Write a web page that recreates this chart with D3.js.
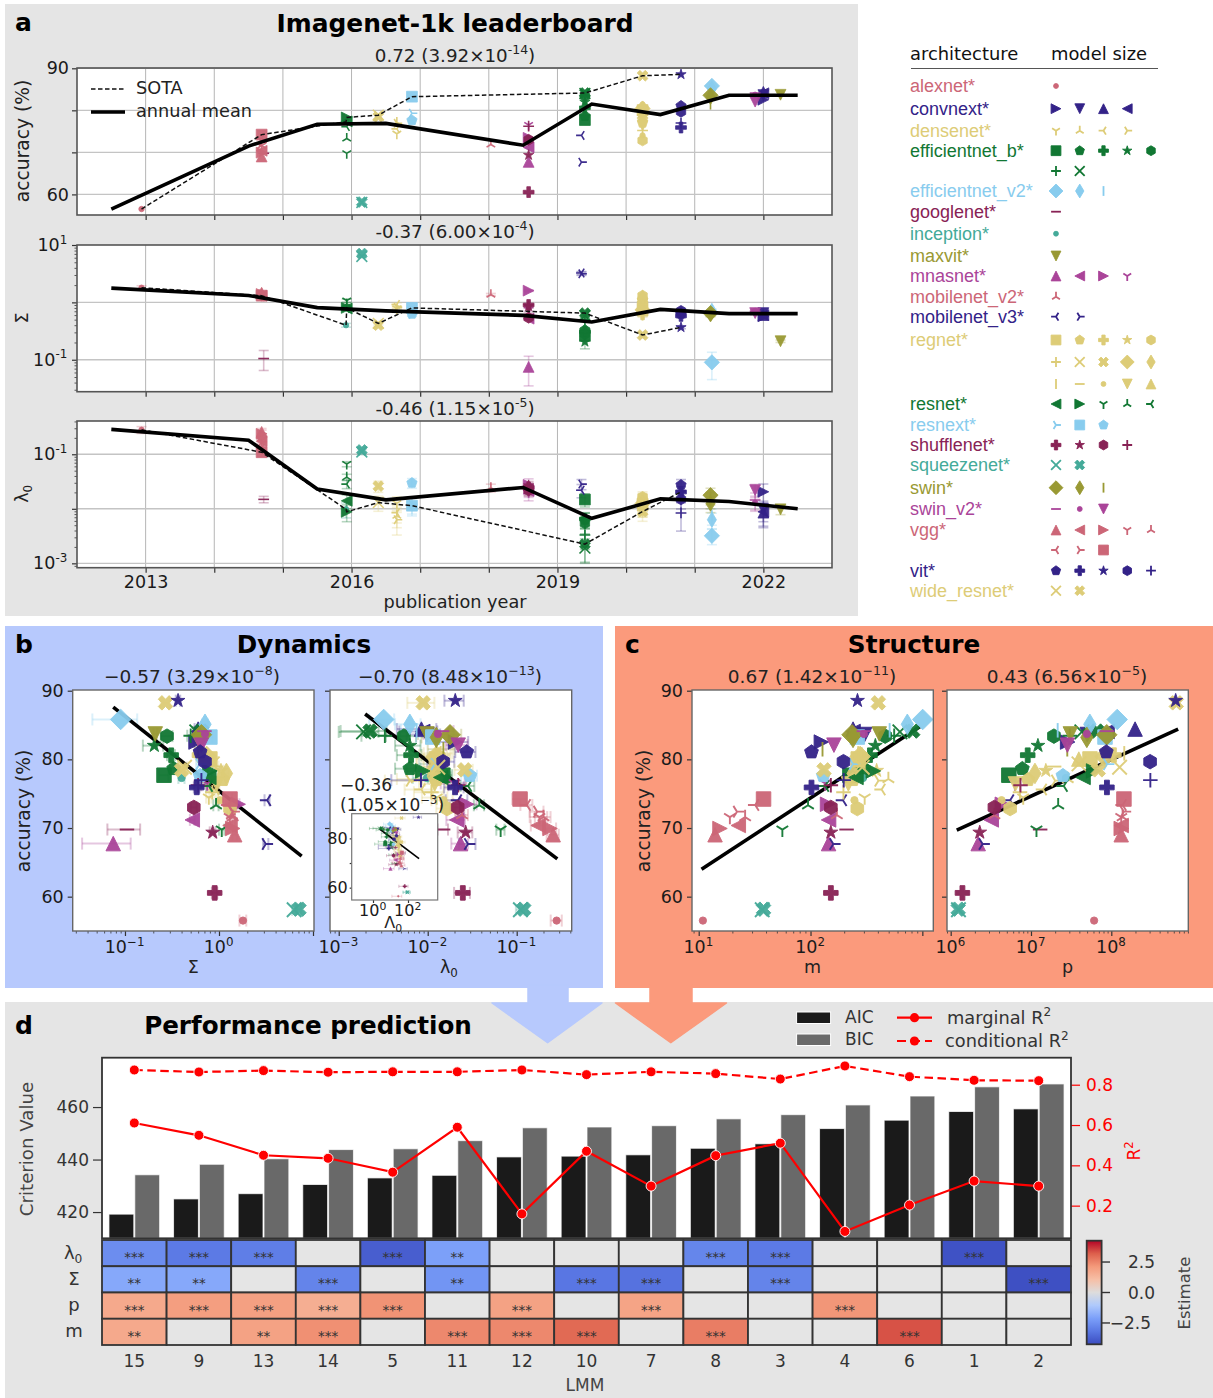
<!DOCTYPE html>
<html><head><meta charset="utf-8">
<script src="https://cdn.jsdelivr.net/npm/d3@7/dist/d3.min.js"></script>
<style>html,body{margin:0;padding:0;background:#fff}svg{display:block}text{font-family:'DejaVu Sans',sans-serif}</style>
</head><body><svg id="fig" width="1213" height="1398"></svg>
<script>
// ---------- data ----------
const archNames=['alexnet*','convnext*','densenet*','efficientnet_b*','efficientnet_v2*','googlenet*','inception*','maxvit*','mnasnet*','mobilenet_v2*','mobilenet_v3*','regnet*','resnet*','resnext*','shufflenet*','squeezenet*','swin*','swin_v2*','vgg*','vit*','wide_resnet*'];
const archColors=['#cc6677','#332288','#ddcc77','#117733','#88ccee','#882255','#44aa99','#999933','#aa4499','#cc6677','#332288','#ddcc77','#117733','#88ccee','#882255','#44aa99','#999933','#aa4499','#cc6677','#332288','#ddcc77'];
const archYears=[2012.94,2022.0,2016.66,2019.4,2021.25,2014.72,2015.92,2022.25,2018.58,2018.03,2019.35,2020.24,2015.93,2016.88,2018.58,2016.15,2021.23,2021.88,2014.69,2020.8,2016.39];
const archMarkers=[['.'],['>','v','^','<'],['1','2','3','4'],['s','p','P','*','h','+','x','X'],['D','d','|'],['_'],['.'],['v'],['^','<','>','1'],['2'],['3','4'],['s','p','P','*','h','+','x','X','D','d','|','_','.','v','^'],['<','>','1','2','3'],['4','s','p'],['P','*','h','+'],['x','X'],['D','d','|'],['_','.','v'],['^','<','>','1','2','3','4','s'],['p','P','*','h','+'],['x','X']];
const accuracy=[56.52, 82.52,83.62,84.41,84.06, 74.43,77.14,75.6,76.9, 77.69,78.64,80.61,82.0,83.38,83.44,84.0,84.12, 85.81,85.11,84.23, 69.78, 77.29, 83.7, 67.73,71.18,73.46,76.5, 71.88, 74.04,67.67, 80.06,77.04,80.62,78.36,72.83,75.21,79.34,88.23,80.42,77.95,80.88,78.95,74.05,76.42,80.04, 77.37,78.31,69.76,73.31,76.13, 79.31,83.25,77.62, 60.55,69.36,73.0,76.23, 58.09,58.18, 83.58,83.2,81.47, 84.11,83.71,82.07, 69.02,70.37,69.93,71.59,71.59,73.36,72.38,74.22, 81.07,75.91,88.55,79.66,76.97, 78.85,78.47];
const paramsM=[61.1, 28.6,50.2,197.8,88.6, 8.0,28.7,14.1,20.0, 5.3,7.8,9.1,12.2,19.3,30.4,43.0,66.3, 118.5,54.1,21.5, 13.0, 27.2, 30.9, 2.2,3.2,4.4,6.3, 3.5, 5.5,2.5, 54.3,9.2,107.8,15.3,5.5,7.3,39.6,644.8,83.6,11.2,145.0,19.4,4.3,6.4,39.4, 44.5,60.2,11.7,21.8,25.6, 88.8,83.5,25.0, 1.4,2.3,3.5,7.4, 1.25,1.24, 87.8,49.6,28.3, 87.9,49.7,28.4, 132.9,132.9,133.0,133.0,138.4,138.4,143.7,143.7, 86.6,88.2,633.5,304.3,306.5, 126.9,68.9];
const modulesM=[10.9, 125,305,240,240, 305,497,432,405, 225,300,340,380,465,560,630,820, 1007,734,510, 210, 295, 412, 145,145,142,135, 172, 195,160, 267,240,278,390,262,197,285,404,278,240,267,295,247,218,267, 255,365,56,95,135, 240,262,130, 152,152,152,152, 37,38, 235,240,128, 300,300,162, 14,22.6,15.5,19,26,32,22,38, 102,102,263,197,198, 290,132];
const sigma=[1.8, .57,.65,.6,.6, .78,.74,.92,.82, .26,.33,.31,.205,.28,.5,.58,.65, .09,.71,.66, .105, .4, .21, .075,.52,1.6,.75, 1.37, 3.25,3.15, .8,1.1,.62,1.05,1.31,.85,.85,.27,.74,1.2,.6,.93,1.02,.95,.8, .78,.8,1.07,.93,.78, .62,.8,.63, .9,.857,.54,.6, 6.3,7.1, .65,.62,.6, .7,.71,.65, 1.47,1.31,1.4,1.3,1.4,1.25,1.4,1.31, .63,.58,.367,.71,.65, .43,.4];
const sigmaErr=[.15, .03,.04,.05,.04, .05,.05,.06,.05, .03,.03,.03,.05,.04,.04,.05,.05, .045,.05,.05, .04, .03, .01, .04,.03,.05,.05, .06, .2,.2, .06,.07,.05,.06,.07,.06,.06,.03,.05,.07,.05,.06,.06,.06,.05, .05,.05,.07,.06,.05, .05,.05,.05, .06,.06,.04,.05, .3,.35, .04,.04,.04, .04,.04,.04, .08,.07,.08,.08,.08,.07,.08,.07, .04,.04,.02,.05,.05, .03,.03];
const lambda0=[.281, .0205,.0098,.0085,.0088, .0126,.0075,.0085,.0063, .0148,.0063,.0065,.0063,.0054,.0033,.0019,.00225, .0032,.0063,.0075, .0149, .0098, .0098, .0234,.0212,.0274,.02, .0243, .0219,.0284, .0125,.0125,.013,.011,.0165,.011,.0115,.0089,.0125,.012,.014,.012,.015,.012,.013, .014,.0088,.066,.038,.0284, .012,.0114,.0298, .0248,.0267,.0217,.022, .11,.12, .0178,.0125,.015, .0145,.013,.022, .257,.174,.237,.18,.2,.13,.17,.109, .0274,.0203,.0204,.0149,.0084, .013,.026];
const lambdaErr=[.04, .008,.004,.004,.004, .004,.003,.003,.003, .004,.002,.002,.002,.002,.0015,.0009,.0012, .001,.002,.0025, .002, .003, .002, .005,.005,.008,.006, .004, .006,.006, .005,.004,.005,.004,.004,.004,.004,.003,.004,.004,.005,.004,.004,.004,.004, .004,.003,.007,.005,.005, .004,.004,.006, .005,.005,.004,.005, .012,.012, .006,.004,.005, .005,.004,.006, .04,.03,.04,.04,.04,.02,.03,.02, .007,.005,.005,.005,.0045, .004,.006];
const capLambda=[28, 15,25,10,12, 30,22,28,25, 5,5,6,6,7,4,2.5,3, 9,12,12, 25, 10, 18, 10,20,30,12, 35, 45,60, 25,30,30,28,35,30,25,43,20,28,22,28,32,30,25, 9,12,20,15,12, 18,12,15, 65,22,15,20, 95,90, 18,14,14, 18,14,22, 42,30,38,35,40,40,38,45, 22,8,398,16,8, 28,43];
const capLambdaErr=[16, 8,14,6,6, 14,10,12,10, 4,3,3,3,3,2.5,2,2, 5,7,7, 12, 5, 16, 6,11,18,7, 18, 25,30, 12,14,14,12,16,14,12,25,10,14,11,14,14,12,12, 5,6,9,7,6, 10,7,8, 35,14,9,11, 40,40, 9,7,7, 9,7,11, 25,18,22,20,22,22,20,25, 12,6,200,8,6, 14,25];
const annualYears=[2012.5,2014.5,2015.5,2016.5,2018.5,2019.5,2020.5,2021.5,2022.5];
const annualAccuracy=[56.5,71.5,76.7,76.9,71.7,81.5,79.0,83.6,83.6];
const annualSigma=[1.77,1.32,.81,.71,.594,.455,.755,.636,.636];
const annualLambda=[.286,.181,.023,.0146,.0246,.0067,.0152,.0136,.01];
const sotaModels=[['alexnet*',0],['vgg*',7],['inception*',0],['resnet*',1],['wide_resnet*',0],['resnext*',1],['efficientnet_b*',7],['regnet*',7],['vit*',2]];
const fitSigma=[[.075,87.6],[7.57,65.9]];
const fitLambda=[[.00198,86.6],[.286,65.5]];
const fitCap=[[2.4,83.8],[430,71.8]];
const fitM=[[10.6,64],[955,84.8]];
const fitP=[[1.19,69.7],[680,84.4]];
const lmmNames=['15','9','13','14','5','11','12','10','7','8','3','4','6','1','2'];
const aic=[419.2,425,427,430.5,433,434,441,441.3,441.8,444.3,446,451.8,455,458.3,459.3];
const bic=[434.2,438.2,440.3,443.8,444.1,447.2,452.1,452.4,452.9,455.5,457.1,460.8,464.2,467.7,468.8];
const marginalR2=[.61,.549,.45,.435,.366,.589,.159,.47,.297,.448,.51,.072,.203,.322,.297];
const conditionalR2=[.873,.863,.87,.862,.864,.864,.873,.85,.864,.855,.828,.893,.84,.822,.82];
const heatRows=['λ_{0}','Σ','p','m'];
const estLambda=[-2.6,-3.1,-3.0,null,-3.8,-2.1,null,null,null,-2.8,-3.1,null,null,-4.1,null];
const estSigma=[-1.9,-1.9,null,-2.85,null,-2.4,null,-3.2,-3.3,null,-2.85,null,null,null,-4.15];
const estP=[1.7,2.0,1.95,1.55,2.25,null,1.9,null,1.85,null,null,2.2,null,null,null];
const estM=[1.7,null,1.9,2.3,null,2.45,2.45,3.0,null,2.65,null,null,3.35,null,null];
const starLambda=['***','***','***','','***','**','','','','***','***','','','***',''];
const starSigma=['**','**','','***','','**','','***','***','','***','','','','***'];
const starP=['***','***','***','***','***','','***','','***','','','***','','',''];
const starM=['**','','**','***','','***','***','***','','***','','','***','',''];
const coolwarmStops=['#3b4cc0','#5977e3','#7b9ff9','#aec9fc','#dddcdc','#f6bfa6','#f49a7b','#dd604c','#b40426'];

// ---------- model table ----------
const models=[];
archNames.forEach((a,ai)=>archMarkers[ai].forEach((mk,mi)=>{
  const i=models.length;
  models.push({arch:a,color:archColors[ai],marker:mk,sub:mi,year:archYears[ai],acc:accuracy[i],p:paramsM[i],m:modulesM[i],sigma:sigma[i],sigmaE:sigmaErr[i],lam:lambda0[i],lamE:lambdaErr[i],cap:capLambda[i],capE:capLambdaErr[i]});
}));
const svg=d3.select('#fig');

// ---------- marker shapes ----------
const lineMarkers=new Set(['+','x','|','_','1','2','3','4']);
function poly(ctx,pts){pts.forEach((p,i)=>i?ctx.lineTo(p[0],p[1]):ctx.moveTo(p[0],p[1]));ctx.closePath();}
function regular(n,r,inner){const a=[];const k=inner?n*2:n;for(let i=0;i<k;i++){const t=-Math.PI/2+i*2*Math.PI/k;const R=inner&&i%2?inner:r;a.push([R*Math.cos(t),R*Math.sin(t)]);}return a;}
function segs(ctx,list){list.forEach(l=>{ctx.moveTo(l[0],l[1]);ctx.lineTo(l[2],l[3]);});}
const markerDraw={
 's':(c,s)=>poly(c,[[-s/2,-s/2],[s/2,-s/2],[s/2,s/2],[-s/2,s/2]]),
 '^':(c,s)=>poly(c,[[0,-s/2],[s/2,s/2],[-s/2,s/2]]),
 'v':(c,s)=>poly(c,[[0,s/2],[s/2,-s/2],[-s/2,-s/2]]),
 '<':(c,s)=>poly(c,[[-s/2,0],[s/2,-s/2],[s/2,s/2]]),
 '>':(c,s)=>poly(c,[[s/2,0],[-s/2,-s/2],[-s/2,s/2]]),
 'D':(c,s)=>{const r=s*.707;poly(c,[[0,-r],[r,0],[0,r],[-r,0]]);},
 'd':(c,s)=>{const r=s*.707,w=r*.6;poly(c,[[0,-r],[w,0],[0,r],[-w,0]]);},
 'p':(c,s)=>poly(c,regular(5,s/2)),
 'h':(c,s)=>poly(c,regular(6,s/2)),
 '*':(c,s)=>poly(c,regular(5,s/2,s*.19)),
 'P':(c,s)=>{const a=s/2,b=s/6;poly(c,[[-b,-a],[b,-a],[b,-b],[a,-b],[a,b],[b,b],[b,a],[-b,a],[-b,b],[-a,b],[-a,-b],[-b,-b]]);},
 'X':(c,s)=>{const u=s/4;poly(c,[[-1,-2],[0,-1],[1,-2],[2,-1],[1,0],[2,1],[1,2],[0,1],[-1,2],[-2,1],[-1,0],[-2,-1]].map(p=>[p[0]*u,p[1]*u]));},
 '.':(c,s)=>{const r=s/4;c.moveTo(r,0);c.arc(0,0,r,0,2*Math.PI);},
 '+':(c,s)=>segs(c,[[-s/2,0,s/2,0],[0,-s/2,0,s/2]]),
 'x':(c,s)=>segs(c,[[-s/2,-s/2,s/2,s/2],[-s/2,s/2,s/2,-s/2]]),
 '|':(c,s)=>segs(c,[[0,-s/2,0,s/2]]),
 '_':(c,s)=>segs(c,[[-s/2,0,s/2,0]]),
 '1':(c,s)=>segs(c,[[0,0,0,s/2],[0,0,.4*s,-.25*s],[0,0,-.4*s,-.25*s]]),
 '2':(c,s)=>segs(c,[[0,0,0,-s/2],[0,0,.4*s,.25*s],[0,0,-.4*s,.25*s]]),
 '3':(c,s)=>segs(c,[[0,0,-s/2,0],[0,0,.25*s,-.4*s],[0,0,.25*s,.4*s]]),
 '4':(c,s)=>segs(c,[[0,0,s/2,0],[0,0,-.25*s,-.4*s],[0,0,-.25*s,.4*s]])
};
function markerPath(mk,ms){
  return d3.symbol().type({draw(ctx,size){markerDraw[mk](ctx,Math.sqrt(size));}}).size(ms*ms)();
}
function drawMarker(g,mk,ms,color,x,y,lw,opacity){
  const line=lineMarkers.has(mk);
  return g.append('path').attr('d',markerPath(mk,ms)).attr('transform',`translate(${x},${y})`)
    .attr('fill',line?'none':color).attr('stroke',color).attr('stroke-width',line?(lw||1.8):(lw?lw*.5:.8))
    .attr('opacity',opacity==null?.95:opacity);
}

// ---------- text with sub/superscripts ----------
function rich(sel,str,fs){
  sel.text(null);
  const re=/\^\{([^}]*)\}|_\{([^}]*)\}/g;
  let last=0,m,carry=0;
  const put=(t,dy,size)=>{const s=sel.append('tspan').text(t);if(dy)s.attr('dy',dy);if(size)s.attr('font-size',size);};
  while((m=re.exec(str))){
    if(m.index>last){put(str.slice(last,m.index),carry);carry=0;}
    const sup=m[1]!==undefined,shift=(sup?-.42:.22)*fs;
    put(sup?m[1]:m[2],shift+carry,fs*.68);carry=-shift;last=re.lastIndex;
  }
  if(last<str.length)put(str.slice(last),carry);
  else if(carry)sel.append('tspan').attr('dy',carry).text('\u200a');
}
function label(g,x,y,str,o={}){
  const fs=o.size||17.5;
  const t=g.append('text').attr('x',x).attr('y',y).attr('font-size',fs).attr('text-anchor',o.anchor||'middle')
    .attr('fill',o.color||'#1a1a1a').attr('font-weight',o.weight||null);
  if(o.family)t.style('font-family',o.family);
  if(o.rotate!=null)t.attr('transform',`rotate(${o.rotate} ${x} ${y})`);
  rich(t,str,fs);return t;
}

// ---------- axes ----------
function logMinors(scale){
  const d=scale.domain(),lo=Math.floor(Math.log10(d[0])),hi=Math.ceil(Math.log10(d[1])),out=[];
  for(let e=lo;e<=hi;e++)for(let k=2;k<=9;k++){const v=k*Math.pow(10,e);if(v>=d[0]&&v<=d[1])out.push(v);}
  return out;
}
function axis(g,gen,scale,pos,o){
  const a=gen(scale).tickValues(o.major).tickSize(o.len||5).tickPadding(o.pad||3).tickFormat(d=>'');
  const ag=g.append('g').attr('transform',pos).call(a);
  ag.select('.domain').remove();
  ag.selectAll('.tick line').attr('stroke',o.color||'#333').attr('stroke-width',o.width||1.2);
  const fs=o.size||17.5;
  ag.selectAll('.tick text').attr('fill',o.textColor||'#1a1a1a').attr('font-size',fs).each(function(d){
    const s=o.text?o.text(d):null; if(s!=null)rich(d3.select(this),s,fs);
  });
  if(o.minor){
    const mg=g.append('g').attr('transform',pos).call(gen(scale).tickValues(o.minor).tickSize(o.minorLen||2.5).tickFormat(d=>''));
    mg.select('.domain').remove();
    mg.selectAll('.tick line').attr('stroke',o.color||'#333').attr('stroke-width',.8);
  }
  return ag;
}
const sci=d=>'10^{'+String(Math.round(Math.log10(d))).replace('-','\u2212')+'}';
const sciHy=d=>'10^{'+Math.round(Math.log10(d))+'}';
function frame(g,x0,y0,x1,y1,color,w){
  return g.append('rect').attr('x',x0).attr('y',y0).attr('width',x1-x0).attr('height',y1-y0).attr('fill','none').attr('stroke',color||'#555').attr('stroke-width',w||1.6);
}
function plotBg(g,x0,y0,x1,y1){g.append('rect').attr('x',x0).attr('y',y0).attr('width',x1-x0).attr('height',y1-y0).attr('fill','#fff');}
function errorbars(g,x,y,f,o){
  models.forEach(d=>{
    const e=f(d);if(!e)return;
    const lo=Math.max(e.v-e.e,e.v*.25),hi=e.v+e.e,c=o.cap,ln=g.append('g').attr('stroke',d.color).attr('stroke-opacity',o.alpha||.3).attr('stroke-width',o.lw||1.6).attr('fill','none');
    if(e.axis==='x'){
      const py=y(d.acc);
      ln.append('line').attr('x1',x(lo)).attr('x2',x(hi)).attr('y1',py).attr('y2',py);
      [lo,hi].forEach(v=>ln.append('line').attr('x1',x(v)).attr('x2',x(v)).attr('y1',py-c).attr('y2',py+c));
    }else{
      const px=x(d.year);
      ln.append('line').attr('x1',px).attr('x2',px).attr('y1',y(lo)).attr('y2',y(hi));
      [lo,hi].forEach(v=>ln.append('line').attr('x1',px-c).attr('x2',px+c).attr('y1',y(v)).attr('y2',y(v)));
    }
  });
}
function dots(g,fx,fy,ms,lw){models.forEach(d=>drawMarker(g,d.marker,ms,d.color,fx(d),fy(d),lw));}
const fitLine=(x,y)=>d3.line().x(d=>x(d[0])).y(d=>y(d[1]));

// ---------- backgrounds ----------
const panelBg=[[5,4,853,612,'#e5e5e5'],[5,626,598,362,'#b7c9fd'],[615,626,598,362,'#fb9a7c'],[5,1002,1208,396,'#e5e5e5']];
panelBg.forEach(r=>svg.append('rect').attr('x',r[0]).attr('y',r[1]).attr('width',r[2]).attr('height',r[3]).attr('fill',r[4]));

// ---------- panel a ----------
const gA=svg.append('g');
label(gA,15,31,'a',{size:25,weight:'bold',anchor:'start',color:'#000'});
label(gA,455,32,'Imagenet-1k leaderboard',{size:24.9,weight:'bold',color:'#000'});
const xYear=d3.scaleLinear().domain([2012,2023]).range([77,832]);
const yearTicks=d3.range(2013,2023);
const A=[
 {y:d3.scaleLinear().domain([55.1,90]).range([215,68.3]),top:68,bot:215,key:d=>d.acc,title:'0.72 (3.92×10^{-14})',ty:62,grid:[60,70,80,90],major:[60,70,80,90],lab:d=>(d===60||d===90)?String(d):null,annual:annualAccuracy,name:'accuracy (%)',ny:141,nfs:18.7,err:null},
 {y:d3.scaleLog().domain([Math.pow(10,-1.557),10]).range([391.7,245]),top:245,bot:391.7,key:d=>d.sigma,title:'-0.37 (6.00×10^{-4})',ty:238,grid:[1,.1],major:[10,1,.1],lab:d=>d===1?null:sciHy(d),annual:annualSigma,name:'Σ',ny:318,nfs:17.5,err:d=>({v:d.sigma,e:d.sigmaE})},
 {y:d3.scaleLog().domain([Math.pow(10,-3.08),Math.pow(10,-.39)]).range([567.7,421]),top:421,bot:567.7,key:d=>d.lam,title:'-0.46 (1.15×10^{-5})',ty:415,grid:[.1,.01,.001],major:[.1,.01,.001],lab:d=>d===.01?null:sciHy(d),annual:annualLambda,name:'λ_{0}',ny:493,nfs:17.5,err:d=>({v:d.lam,e:d.lamE})}
];
A.forEach((p,pi)=>{
  const g=gA.append('g');
  plotBg(g,77,p.top,832,p.bot);
  yearTicks.forEach(v=>g.append('line').attr('x1',xYear(v)).attr('x2',xYear(v)).attr('y1',p.top).attr('y2',p.bot).attr('stroke','#b5b5b5').attr('stroke-width',1));
  p.grid.forEach(v=>g.append('line').attr('x1',77).attr('x2',832).attr('y1',p.y(v)).attr('y2',p.y(v)).attr('stroke','#c4c4c4').attr('stroke-width',1.4));
  label(g,455,p.ty,p.title,{size:18.3,color:'#222'});
  label(g,22,p.ny,p.name,{size:p.nfs,rotate:-90,color:'#222'}).attr('dy','.35em');
  if(p.err)errorbars(g,xYear,p.y,d=>p.err(d),{cap:5,lw:1.6});
  const line=d3.line().x(d=>xYear(d[0])).y(d=>p.y(d[1]));
  const sota=sotaModels.map(s=>{const m=models.find(k=>k.arch===s[0]&&k.sub===s[1]);return [m.year,p.key(m)];});
  dots(g,d=>xYear(d.year),d=>p.y(p.key(d)),10.8,1.6);
  g.append('path').attr('d',line(sota)).attr('fill','none').attr('stroke','#111').attr('stroke-width',1.5).attr('stroke-dasharray','4.5,2.5');
  g.append('path').attr('d',line(annualYears.map((v,i)=>[v,p.annual[i]]))).attr('fill','none').attr('stroke','#000').attr('stroke-width',3.6);
  axis(g,d3.axisLeft,p.y,'translate(77,0)',{major:p.major,minor:pi?logMinors(p.y):null,text:p.lab});
  axis(g,d3.axisBottom,xYear,`translate(0,${p.bot})`,{major:yearTicks,text:pi===2?(d=>(d-2013)%3===0?String(d):null):null,pad:3});
  frame(g,77,p.top,832,p.bot);
});
label(gA,455,608,'publication year',{size:17.7,color:'#222'});
gA.append('line').attr('x1',91).attr('x2',125).attr('y1',89).attr('y2',89).attr('stroke','#111').attr('stroke-width',1.5).attr('stroke-dasharray','4.5,2.5');
label(gA,136,94,'SOTA',{anchor:'start',size:17.7,color:'#222'});
gA.append('line').attr('x1',91).attr('x2',125).attr('y1',112).attr('y2',112).attr('stroke','#000').attr('stroke-width',3.6);
label(gA,136,117,'annual mean',{anchor:'start',size:17.7,color:'#222'});

// ---------- legend ----------
const gL=svg.append('g');
label(gL,910,60,'architecture',{anchor:'start',size:17.9,color:'#111'});
label(gL,1051,60,'model size',{anchor:'start',size:17.9,color:'#111'});
gL.append('line').attr('x1',911).attr('x2',1158).attr('y1',68.5).attr('y2',68.5).attr('stroke','#555').attr('stroke-width',1.2);
const legendRowY=[[86],[108.7],[130.7],[150.7,171],[191],[211.7],[233.7],[256],[276],[296.7],[316.7],[340,362,384],[404],[425],[445],[465],[487.7],[509],[530,550],[570.7],[590.7]];
const xLegend=d3.scaleLinear().domain([0,4]).range([1056,1151]);
archNames.forEach((a,i)=>{
  label(gL,910,legendRowY[i][0]+6,a,{anchor:'start',size:18,color:archColors[i],family:"'Liberation Sans',sans-serif"});
  const mk=archMarkers[i].slice(0,a==='efficientnet_b*'?7:99);
  mk.forEach((m,j)=>drawMarker(gL,m,9.8,archColors[i],xLegend(j%5),legendRowY[i][Math.floor(j/5)],1.8,1));
});

// ---------- panels b / c ----------
const gBC=svg.append('g');
label(gBC,15,653,'b',{size:25,weight:'bold',anchor:'start',color:'#000'});
label(gBC,304,653,'Dynamics',{size:24.7,weight:'bold',color:'#000'});
label(gBC,625,653,'c',{size:25,weight:'bold',anchor:'start',color:'#000'});
label(gBC,914,653,'Structure',{size:24.7,weight:'bold',color:'#000'});
const yAcc=d3.scaleLinear().domain([55,90]).range([931,690.7]);
const accTicks=[60,70,80,90];
const S=[
 {x0:72.7,x1:314,dom:[-1.556,1.0106],key:d=>d.sigma,err:d=>({v:d.sigma,e:d.sigmaE,axis:'x'}),fit:fitSigma,major:[.1,1,10],txt:d=>d===10?null:sci(d),xn:'Σ',title:'−0.57 (3.29×10^{−8})',tx:192,yl:true,ylx:23},
 {x0:330,x1:571.7,dom:[-3.098,-.382],key:d=>d.lam,err:d=>({v:d.lam,e:d.lamE,axis:'x'}),fit:fitLambda,major:[.001,.01,.1],txt:sci,xn:'λ_{0}',title:'−0.70 (8.48×10^{−13})',tx:450},
 {x0:692,x1:933.3,dom:[.94,3.098],key:d=>d.m,fit:fitM,major:[10,100,1000],txt:d=>d===1000?null:sci(d),xn:'m',title:'0.67 (1.42×10^{−11})',tx:812,yl:true,ylx:643},
 {x0:947,x1:1188.3,dom:[5.954,8.959],key:d=>d.p*1e6,fit:fitP.map(d=>[d[0]*1e6,d[1]]),major:[1e6,1e7,1e8],txt:sci,xn:'p',title:'0.43 (6.56×10^{−5})',tx:1067}
];
S.forEach(p=>{
  const g=gBC.append('g');
  const x=d3.scaleLog().domain(p.dom.map(v=>Math.pow(10,v))).range([p.x0,p.x1]);
  plotBg(g,p.x0,690,p.x1,931);
  label(g,p.tx,683,p.title,{size:18.5,color:'#222'});
  if(p.err)errorbars(g,x,yAcc,d=>p.err(d),{cap:6,lw:2});
  g.append('path').attr('d',fitLine(x,yAcc)(p.fit)).attr('fill','none').attr('stroke','#000').attr('stroke-width',3.6);
  dots(g,d=>x(p.key(d)),d=>yAcc(d.acc),14.5,1.9);
  axis(g,d3.axisLeft,yAcc,`translate(${p.x0},0)`,{major:accTicks,text:p.yl?(d=>String(d)):null,pad:4});
  axis(g,d3.axisBottom,x,'translate(0,931)',{major:p.major,minor:logMinors(x),text:p.txt,pad:5});
  label(g,(p.x0+p.x1)/2+(p.xn==='λ_{0}'?-1:0),973,p.xn,{size:17.5,color:'#222'});
  if(p.yl)label(g,p.ylx,811,'accuracy (%)',{rotate:-90,size:18.7,color:'#222'}).attr('dy','.35em');
  frame(g,p.x0,690,p.x1,931,'#666',1.4);
});
// inset
(function(){
  const g=gBC.append('g');
  const x=d3.scaleLog().domain([Math.pow(10,-1.217),Math.pow(10,3.697)]).range([351.7,437.7]);
  const y=d3.scaleLinear().domain([55,90]).range([900,813.7]);
  plotBg(g,351.7,813.7,437.7,900);
  errorbars(g,x,y,d=>({v:d.cap,e:d.capE,axis:'x'}),{cap:1.6,lw:.8,alpha:.35});
  g.append('path').attr('d',fitLine(x,y)(fitCap)).attr('fill','none').attr('stroke','#000').attr('stroke-width',1.6);
  dots(g,d=>x(d.cap),d=>y(d.acc),3.6,.7);
  axis(g,d3.axisLeft,y,'translate(351.7,0)',{major:[60,70,80],text:d=>d===70?null:String(d),len:2,pad:2,size:16});
  axis(g,d3.axisBottom,x,'translate(0,900)',{major:[1,100],text:sci,len:3,pad:2,size:16});
  label(g,394,928,'Λ_{0}',{size:16,color:'#222'});
  label(g,340,791,'−0.36',{anchor:'start',size:17,color:'#222'});
  label(g,340,811,'(1.05×10^{−3})',{anchor:'start',size:17,color:'#222'});
  frame(g,351.7,813.7,437.7,900,'#777',1.2);
})();

// ---------- panel d ----------
const gD=svg.append('g');
label(gD,15,1034,'d',{size:25,weight:'bold',anchor:'start',color:'#000'});
label(gD,308,1034,'Performance prediction',{size:24.6,weight:'bold',color:'#000'});
const xLmm=d3.scaleBand().domain(lmmNames).range([102,1071]);
const xCrit=d3.scaleBand().domain(['AIC','BIC']).range([0,xLmm.bandwidth()*.8]);
const yCrit=d3.scaleLinear().domain([410,478.8]).range([1238.3,1057.7]);
const yR2=d3.scaleLinear().domain([.038,.934]).range([1238.3,1057.7]);
plotBg(gD,102,1057.7,1071,1238.3);
[['AIC',aic,'#1a1a1a'],['BIC',bic,'#696969']].forEach(s=>{
  gD.selectAll(null).data(lmmNames).join('rect')
   .attr('x',d=>xLmm(d)+xLmm.bandwidth()*.1+xCrit(s[0])+.5).attr('width',xCrit.bandwidth()-1)
   .attr('y',(d,i)=>yCrit(s[1][i])).attr('height',(d,i)=>1238.3-yCrit(s[1][i]))
   .attr('fill',s[2]).attr('stroke','#fff').attr('stroke-opacity',.75).attr('stroke-width',1);
});
const xMid=d=>xLmm(d)+xLmm.bandwidth()/2;
[[conditionalR2,'8.5,4.5'],[marginalR2,null]].forEach(s=>{
  const l=d3.line().x((d,i)=>xMid(lmmNames[i])).y(d=>yR2(d));
  gD.append('path').attr('d',l(s[0])).attr('fill','none').attr('stroke','#f00').attr('stroke-width',2.2).attr('stroke-dasharray',s[1]);
  gD.selectAll(null).data(s[0]).join('circle').attr('cx',(d,i)=>xMid(lmmNames[i])).attr('cy',d=>yR2(d)).attr('r',5)
    .attr('fill','#f00').attr('stroke','#fff').attr('stroke-width',.9);
});
axis(gD,d3.axisLeft,yCrit,'translate(102,0)',{major:[420,440,460],text:String,size:17,textColor:'#333',len:9,pad:4});
axis(gD,d3.axisRight,yR2,'translate(1071,0)',{major:[.2,.4,.6,.8],text:d=>d.toFixed(1),size:17,color:'#f00',textColor:'#f00',len:9,pad:6});
label(gD,33,1149,'Criterion Value',{rotate:-90,size:18.2,color:'#444'});
label(gD,1140,1150,'R^{2}',{rotate:-90,size:17,color:'#f00'});
frame(gD,102,1057.7,1071,1238.3,'#333',1.8);
// heat map
const color=d3.scaleLinear().domain(coolwarmStops.map((c,i)=>-4.25+i*8.5/(coolwarmStops.length-1))).range(coolwarmStops).clamp(true);
const estRows=[estLambda,estSigma,estP,estM],starRows=[starLambda,starSigma,starP,starM];
const yHeat=d3.scaleBand().domain(heatRows).range([1240,1345]);
heatRows.forEach((r,ri)=>{
  lmmNames.forEach((n,ci)=>{
    const v=estRows[ri][ci];
    gD.append('rect').attr('x',xLmm(n)).attr('y',yHeat(r)).attr('width',xLmm.bandwidth()).attr('height',yHeat.bandwidth())
      .attr('fill',v==null?'#e5e5e5':color(v)).attr('stroke','#333').attr('stroke-width',1.8);
    if(starRows[ri][ci])gD.append('text').attr('x',xMid(n)).attr('y',yHeat(r)+yHeat.bandwidth()/2+9).attr('text-anchor','middle').attr('font-size',13.5).attr('fill','#333').text(starRows[ri][ci]);
  });
  label(gD,74,yHeat(r)+yHeat.bandwidth()/2+5.5,r,{size:18,color:'#333'});
});
lmmNames.forEach(n=>gD.append('text').attr('x',xMid(n)).attr('y',1367).attr('text-anchor','middle').attr('font-size',17).attr('fill','#333').text(n));
label(gD,585,1391,'LMM',{size:17,color:'#444'});
// colour bar
const yBar=d3.scaleLinear().domain([-4.25,4.25]).range([1344.3,1240.7]);
const grad=svg.append('defs').append('linearGradient').attr('id','cw').attr('x1',0).attr('y1',1).attr('x2',0).attr('y2',0);
coolwarmStops.forEach((c,i)=>grad.append('stop').attr('offset',i/(coolwarmStops.length-1)).attr('stop-color',c));
gD.append('rect').attr('x',1086.7).attr('y',1240.7).attr('width',14.9).attr('height',103.6).attr('fill','url(#cw)');
frame(gD,1086.7,1240.7,1101.6,1344.3,'#333',1.8);
[2.5,0,-2.5].forEach(v=>{
  gD.append('line').attr('x1',1101.6).attr('x2',1110).attr('y1',yBar(v)).attr('y2',yBar(v)).attr('stroke','#333').attr('stroke-width',1.4);
  gD.append('text').attr('x',v<0?1151:1155).attr('y',yBar(v)+6).attr('text-anchor','end').attr('font-size',17).attr('fill','#333').text(v<0?'−2.5':v.toFixed(1));
});
label(gD,1190,1293,'Estimate',{rotate:-90,size:16.5,color:'#444'});
// legend d
[['AIC','#1a1a1a',1012],['BIC','#696969',1034]].forEach(s=>{
  gD.append('rect').attr('x',796.6).attr('y',s[2]).attr('width',34).attr('height',11.5).attr('fill',s[1]).attr('stroke','#fff').attr('stroke-width',1);
  label(gD,845,s[2]+11,s[0],{anchor:'start',size:17,color:'#333'});
});
[['marginal R^{2}',1017.7,null,947],['conditional R^{2}',1041,'9,5',945]].forEach(s=>{
  gD.append('line').attr('x1',897).attr('x2',932).attr('y1',s[1]).attr('y2',s[1]).attr('stroke','#f00').attr('stroke-width',2.2).attr('stroke-dasharray',s[2]);
  gD.append('circle').attr('cx',914.5).attr('cy',s[1]).attr('r',4.6).attr('fill','#f00');
  label(gD,s[3],s[1]+6,s[0],{anchor:'start',size:17.8,color:'#333'});
});
// arrows
const arrowPts=[[[528,985],[568,985],[568,1003],[602,1003],[547.6,1042.7],[492,1003],[528,1003]],[[650,985],[692,985],[692,1003],[726.5,1003],[670.8,1042.7],[615.5,1003],[650,1003]]];
arrowPts.forEach((p,i)=>svg.append('path').attr('d',d3.line()(p)+'Z').attr('fill',i?'#fb9a7c':'#b7c9fd').attr('stroke',i?'#fb9a7c':'#b7c9fd').attr('stroke-width',1.5).attr('stroke-linejoin','round'));
</script></body></html>
